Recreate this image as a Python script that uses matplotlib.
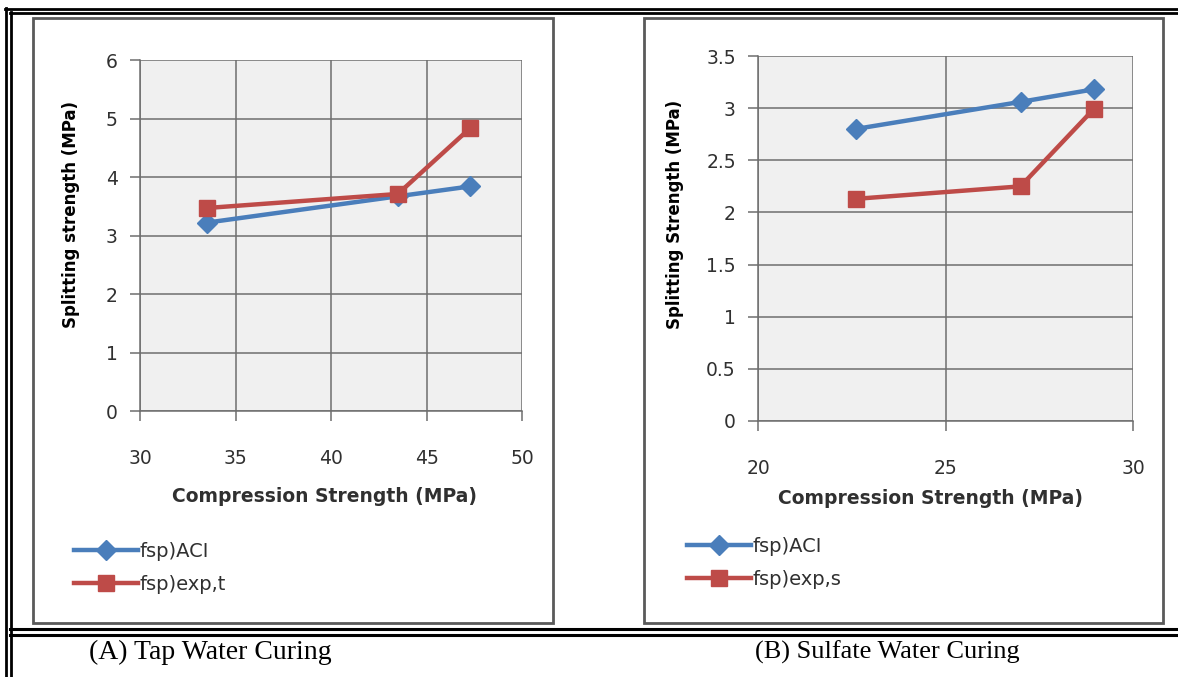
import matplotlib
matplotlib.use("Agg")
import matplotlib.pyplot as plt
from matplotlib.lines import Line2D
from matplotlib.patches import Rectangle

# values
tap_x = [33.5, 43.5, 47.3]
tap_aci = [3.22, 3.67, 3.84]
tap_exp = [3.47, 3.71, 4.84]

sul_x = [22.6, 27.0, 28.95]
sul_aci = [2.80, 3.06, 3.18]
sul_exp = [2.13, 2.25, 2.99]

tap_xticks = [30, 35, 40, 45, 50]
tap_yticks = [0, 1, 2, 3, 4, 5, 6]
sul_xticks = [20, 25, 30]
sul_yticks = [0, 0.5, 1, 1.5, 2, 2.5, 3, 3.5]
sul_ylabels = ["0", "0.5", "1", "1.5", "2", "2.5", "3", "3.5"]

W, H = 1178, 677
BLUE = "#4a7ebb"
RED = "#be4b48"
TXT = "#303030"
FONT = "DejaVu Sans"

fig = plt.figure(figsize=(W / 100, H / 100), dpi=100)


def fx(x):
    return x / W


def fy(y):
    return 1 - y / H


def hline(y, x0, x1, lw=2.0, color="black"):
    fig.add_artist(Line2D([fx(x0), fx(x1)], [fy(y), fy(y)], color=color, lw=lw,
                          transform=fig.transFigure))


def vline(x, y0, y1, lw=2.0, color="black"):
    fig.add_artist(Line2D([fx(x), fx(x)], [fy(y0), fy(y1)], color=color, lw=lw,
                          transform=fig.transFigure))


# table borders of the document
hline(9, 5, W)
hline(13, 10, W)
vline(6, 8, H)
vline(11, 12, H)
hline(629, 10, W, lw=2.2)
hline(635, 10, W, lw=2.2)

# chart boxes
for x0, x1 in [(33, 553), (644, 1163)]:
    fig.add_artist(Rectangle((fx(x0), fy(623)), fx(x1 - x0), (623 - 18) / H,
                             transform=fig.transFigure, fill=False,
                             edgecolor="#5a5a5a", lw=2.0))


def make_panel(rect, xs, aci, exp, xticks, yticks, ylabels, ylabel, exp_name,
               xlab_pos, ylab_pos, leg_pos):
    left, top, right, bottom = rect
    ax = fig.add_axes([fx(left), fy(bottom), fx(right - left), (bottom - top) / H])
    ax.set_facecolor("#f0f0f0")
    ax.plot(xs, aci, color=BLUE, lw=3.2, marker="D", ms=10, label="fsp)ACI",
            zorder=3)
    ax.plot(xs, exp, color=RED, lw=3.2, marker="s", ms=11.5, label=exp_name,
            zorder=4)
    ax.set_xlim(xticks[0], xticks[-1])
    ax.set_ylim(yticks[0], yticks[-1])
    ax.set_xticks(xticks)
    ax.set_yticks(yticks)
    ax.set_yticklabels(ylabels)
    ax.grid(True, color="#6e6e6e", lw=1.1)
    ax.set_axisbelow(True)
    for s in ["top", "right"]:
        ax.spines[s].set_visible(False)
    for s in ["left", "bottom"]:
        ax.spines[s].set_color("#6e6e6e")
        ax.spines[s].set_linewidth(1.1)
    ax.tick_params(axis="x", length=7, width=1.1, color="#6e6e6e", pad=20,
                   labelsize=13.5, labelcolor=TXT)
    ax.tick_params(axis="y", length=7, width=1.1, color="#6e6e6e", pad=9,
                   labelsize=13.5, labelcolor=TXT)
    for lab in ax.get_xticklabels() + ax.get_yticklabels():
        lab.set_family(FONT)

    fig.text(fx(xlab_pos[0]), fy(xlab_pos[1]), "Compression Strength (MPa)",
             ha="center", va="center", fontsize=13.5, fontweight="bold",
             color=TXT, family=FONT)
    fig.text(fx(ylab_pos[0]), fy(ylab_pos[1]), ylabel, ha="center",
             va="center", rotation=90, fontsize=12, fontweight="bold",
             color="black", family=FONT)
    ax.legend(loc="upper left", bbox_to_anchor=(fx(leg_pos[0]), fy(leg_pos[1])),
              bbox_transform=fig.transFigure, frameon=False, handlelength=3.3,
              handletextpad=0.05, labelspacing=0.72, borderpad=0,
              borderaxespad=0, prop={"family": FONT, "size": 14},
              labelcolor=TXT)
    return ax


make_panel((140, 60, 522, 411), tap_x, tap_aci, tap_exp, tap_xticks,
           tap_yticks, [str(v) for v in tap_yticks], "Splitting strength (MPa)",
           "fsp)exp,t", (324, 497), (71, 214), (74, 542))
make_panel((758, 56, 1133, 421), sul_x, sul_aci, sul_exp, sul_xticks,
           sul_yticks, sul_ylabels, "Splitting Strength (MPa)",
           "fsp)exp,s", (930, 499), (675, 214), (687, 537))

fig.text(fx(210), fy(652), "(A) Tap Water Curing", ha="center", va="center",
         fontsize=20, family="Liberation Serif")
fig.text(fx(887), fy(652), "(B) Sulfate Water Curing", ha="center",
         va="center", fontsize=19, family="Liberation Serif")

fig.savefig("out.png", dpi=100, facecolor="white")
